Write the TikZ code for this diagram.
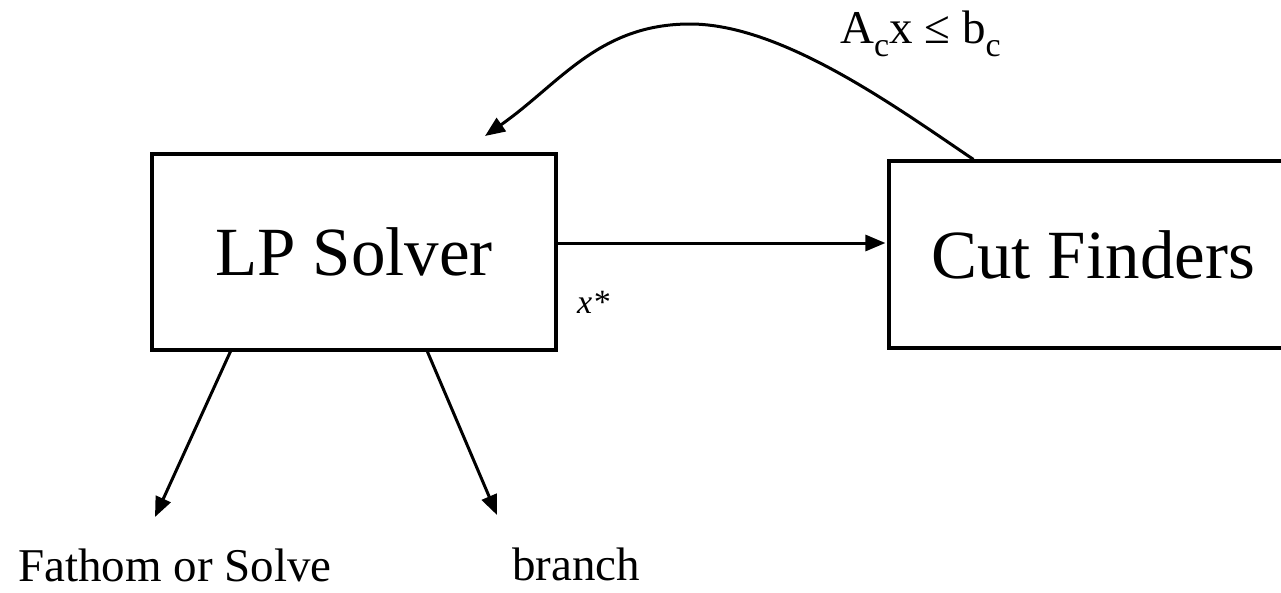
\documentclass[tikz,border=0pt]{standalone}
\usepackage{fontspec}
\setmainfont{Liberation Serif}
\usetikzlibrary{arrows.meta}
\tikzset{
  boxnode/.style={draw, line width=3.2pt, inner sep=0pt, font=\fontsize{69}{80}\selectfont},
  conn/.style={line width=3pt, -{Triangle[length=20pt,width=16pt]}},
  lbl/.style={inner sep=0pt, anchor=base west},
}
\begin{document}
\begin{tikzpicture}[x=1pt,y=-1pt]
\useasboundingbox (0,0) rectangle (1281,592);
\node[boxnode, minimum width=404pt, minimum height=196pt] (lp) at (354,252) {LP Solver};
\node[boxnode, minimum width=408pt, minimum height=187pt] (cf) at (1093,254.5) {Cut Finders};
\coordinate (fs) at (155,517);
\coordinate (br) at (497,515);
\coordinate (peak) at (690,24);
\coordinate (cend) at (485,136);
\draw[conn, shorten >=2pt] ([yshift=9pt]lp.east) -- ([yshift=9pt]cf.west |- lp.east);
\draw[conn] ([xshift=80pt]lp.south west) -- (fs);
\draw[conn] ([xshift=277pt]lp.south west) -- (br);
\draw[conn] ([xshift=86pt]cf.north west) to[out=146,in=0,looseness=0.75] (peak) to[out=180,in=35] (cend);
\node[lbl, font=\fontsize{47}{54}\selectfont] (cut) at (840,43) {A\raisebox{-13pt}{\fontsize{34}{40}\selectfont c}x ≤ b\raisebox{-13pt}{\fontsize{34}{40}\selectfont c}};
\node[lbl, font=\fontsize{34}{40}\selectfont\itshape] (xs) at (577,313) {x*};
\node[lbl, font=\fontsize{47}{54}\selectfont] (fos) at (18,581) {Fathom or Solve};
\node[lbl, font=\fontsize{47}{54}\selectfont] (bra) at (512,580) {branch};
\end{tikzpicture}
\end{document}
